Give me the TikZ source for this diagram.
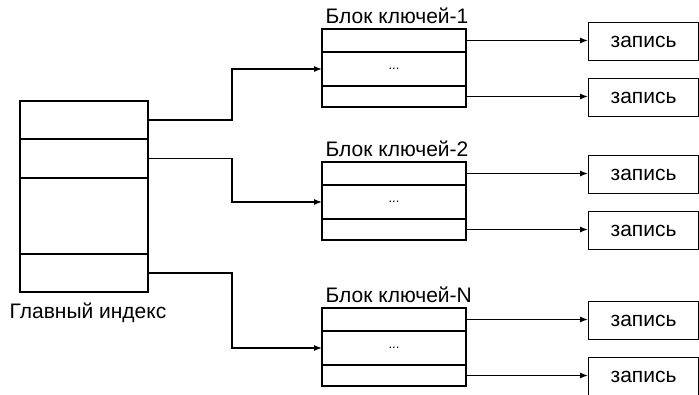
\documentclass[tikz,border=0pt]{standalone}
\usepackage{fontspec}
\setmainfont{Liberation Sans}
\usetikzlibrary{positioning,arrows.meta}

\tikzset{
	row/.style={draw, minimum width=128pt, inner sep=0pt, outer sep=0pt},
	keyrow/.style={draw, minimum width=144pt, inner sep=0pt, outer sep=0pt},
	record/.style={draw, minimum width=110pt, minimum height=38pt, inner sep=0pt},
	title/.style={anchor=south west, inner sep=3pt, yshift=2pt},
	link/.style={-{Latex[length=8pt,width=6pt]}},
	dots/.style={font=\fontsize{13}{13}\selectfont},
}

\begin{document}
\begin{tikzpicture}[x=1pt, y=-1pt, line width=1.2pt, font=\fontsize{21}{25}\selectfont]

	\useasboundingbox (0,0) rectangle (699,395);

	% main index
	\node[row, minimum height=38pt, anchor=north west] (m1) at (20,101) {};
	\node[row, minimum height=39pt, below=0pt of m1] (m2) {};
	\node[row, minimum height=76pt, below=0pt of m2] (m3) {};
	\node[row, minimum height=38pt, below=0pt of m3] (m4) {};
	\node[below=7pt of m4, xshift=4pt] (mlabel) {Главный индекс};

	% key block 1
	\node[keyrow, minimum height=23pt, anchor=north west] (a1) at (322,29) {};
	\node[keyrow, dots, minimum height=34pt, below=0pt of a1] (a2) {...};
	\node[keyrow, minimum height=21pt, below=0pt of a2] (a3) {};
	\node[title] (atitle) at (a1.north west) {Блок ключей-1};
	\node[record, anchor=north west] (ra1) at (588,22) {запись};
	\node[record, anchor=north west] (ra2) at (588,78) {запись};

	% key block 2
	\node[keyrow, minimum height=23pt, anchor=north west] (b1) at (322,162) {};
	\node[keyrow, dots, minimum height=34pt, below=0pt of b1] (b2) {...};
	\node[keyrow, minimum height=21pt, below=0pt of b2] (b3) {};
	\node[title] (btitle) at (b1.north west) {Блок ключей-2};
	\node[record, anchor=north west] (rb1) at (588,155) {запись};
	\node[record, anchor=north west] (rb2) at (588,211) {запись};

	% key block N
	\node[keyrow, minimum height=23pt, anchor=north west] (c1) at (322,308) {};
	\node[keyrow, dots, minimum height=34pt, below=0pt of c1] (c2) {...};
	\node[keyrow, minimum height=21pt, below=0pt of c2] (c3) {};
	\node[title] (ctitle) at (c1.north west) {Блок ключей-N};
	\node[record, anchor=north west] (rc1) at (588,301) {запись};
	\node[record, anchor=north west] (rc2) at (588,357) {запись};

	% index to blocks
	\draw[link] (m1.east) -- ++(84,0) |- (a2.west);
	\draw[link] (m2.east) -- ++(84,0) |- (b2.west);
	\draw[link] (m4.east) -- ++(84,0) |- (c2.west);

	% blocks to records
	\draw[link] (a1.east) -- (a1.east -| ra1.west);
	\draw[link] (a3.east) -- (a3.east -| ra2.west);
	\draw[link] (b1.east) -- (b1.east -| rb1.west);
	\draw[link] (b3.east) -- (b3.east -| rb2.west);
	\draw[link] (c1.east) -- (c1.east -| rc1.west);
	\draw[link] (c3.east) -- (c3.east -| rc2.west);

\end{tikzpicture}
\end{document}
